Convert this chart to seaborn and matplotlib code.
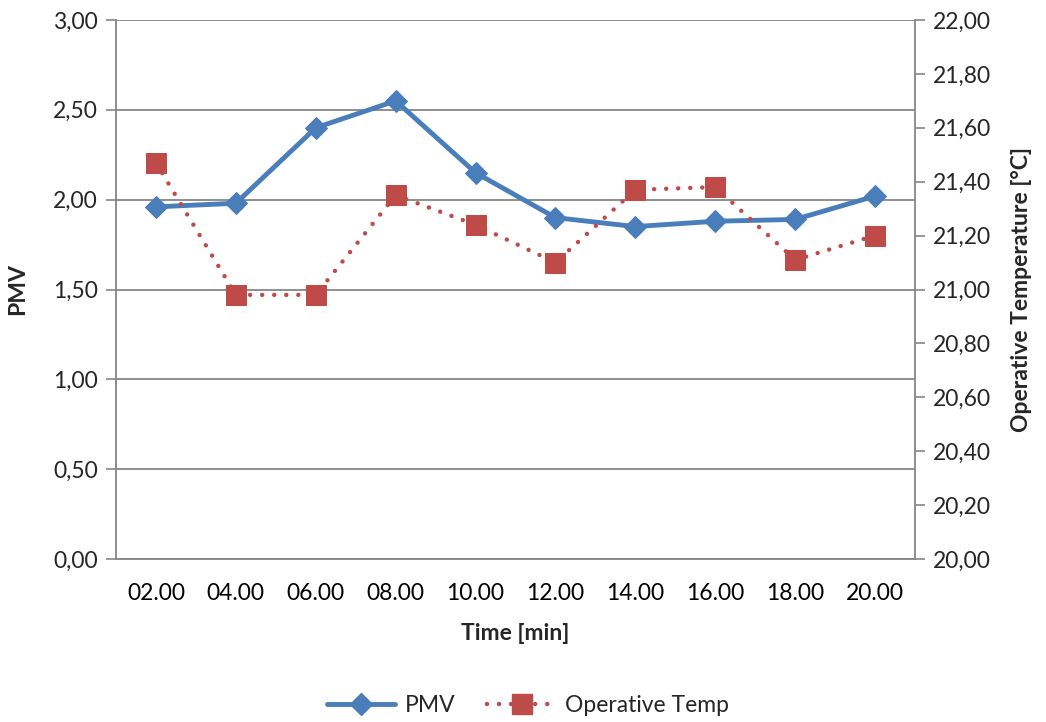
import matplotlib
matplotlib.use("Agg")
import matplotlib.pyplot as plt
import seaborn as sns
import numpy as np
import pandas as pd
from matplotlib.ticker import FixedLocator, FuncFormatter
from matplotlib.lines import Line2D

times = ["02.00", "04.00", "06.00", "08.00", "10.00", "12.00", "14.00", "16.00", "18.00", "20.00"]
pmv = [1.96, 1.98, 2.40, 2.55, 2.15, 1.90, 1.85, 1.88, 1.89, 2.02]
op_temp = [21.47, 20.98, 20.98, 21.35, 21.24, 21.10, 21.37, 21.38, 21.11, 21.20]

sns.set_style("white")
plt.rcParams['font.family'] = ['Lato', 'DejaVu Sans']

df = pd.DataFrame({"Time": times, "PMV": pmv, "Temp": op_temp})
df["x"] = np.arange(len(times))

blue = "#4A7EBB"
red = "#BE4B48"
gray = "#868686"
FS = 16.5
dots = (0, (0.01, 2.7))

fig = plt.figure(figsize=(10.46, 7.22), dpi=100)
ax = fig.add_axes([116/1046, 1-559/722, (915-116)/1046, (559-20)/722])
ax2 = ax.twinx()

sns.lineplot(data=df, x="x", y="PMV", ax=ax, color=blue, linewidth=3.5,
             marker="D", markersize=11, markeredgecolor=blue, zorder=3)
sns.lineplot(data=df, x="x", y="Temp", ax=ax2, color=red, linewidth=3.2,
             linestyle=dots, marker="s", markersize=15, markeredgecolor=red, zorder=3)
ax2.lines[0].set_dash_capstyle("round")

ax.set_xlim(-0.5, len(times) - 0.5)
ax.set_ylim(0, 3)
ax2.set_ylim(20, 22)

ax.set_yticks(np.arange(0, 3.01, 0.5))
ax2.set_yticks(np.arange(20, 22.01, 0.2))
fmt_c = FuncFormatter(lambda v, p: f"{v:.2f}".replace(".", ","))
ax.yaxis.set_major_formatter(fmt_c)
ax2.yaxis.set_major_formatter(fmt_c)

ax.set_xticks(df["x"])
ax.set_xticklabels(times)
ax.xaxis.set_minor_locator(FixedLocator(np.arange(-0.5, len(times), 1.0)))
ax.tick_params(axis="x", which="major", length=0, pad=17, labelsize=FS, colors="black")
ax.tick_params(axis="x", which="minor", length=7, width=1.2, color=gray)
ax.tick_params(axis="y", length=7, width=1.2, color=gray, labelsize=FS, pad=6, direction="out")
ax2.tick_params(axis="y", length=7, width=1.2, color=gray, labelsize=FS, pad=6, direction="out")

ax.grid(axis="y", color=gray, linewidth=1.3)
ax.set_axisbelow(True)
ax2.grid(False)

for a in (ax, ax2):
    for s in a.spines.values():
        s.set_visible(False)
for a, side in ((ax, "left"), (ax, "bottom"), (ax2, "right")):
    a.spines[side].set_visible(True)
    a.spines[side].set_color(gray)
    a.spines[side].set_linewidth(1.3)

ax.set_xlabel("Time [min]", fontsize=FS, fontweight="bold", labelpad=14)
ax.set_ylabel("PMV", fontsize=FS, fontweight="bold", labelpad=18)
ax2.set_ylabel("Operative Temperature [\u00b0C]", fontsize=FS, fontweight="bold", labelpad=14)

handles = [
    Line2D([], [], color=blue, linewidth=3.5, marker="D", markersize=11),
    Line2D([], [], color=red, linewidth=3.2, linestyle=dots, dash_capstyle="round",
           marker="s", markersize=15),
]
leg = fig.legend(handles, ["PMV", "Operative Temp"], loc="center", bbox_to_anchor=(528/1046, 1-706/722),
                 ncol=2, frameon=False, fontsize=FS, handlelength=3.0, columnspacing=1.4,
                 handletextpad=0.4)

fig.savefig("out.png", dpi=100)
